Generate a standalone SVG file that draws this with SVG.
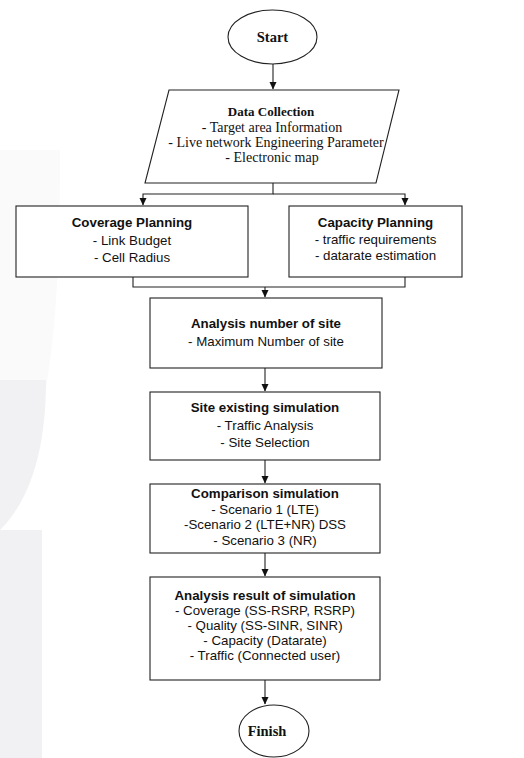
<svg xmlns="http://www.w3.org/2000/svg" width="524" height="758" viewBox="0 0 524 758">
<defs>
<style>
.sh{fill:#fff;stroke:#222;stroke-width:1.1}
.ln{fill:none;stroke:#222;stroke-width:1.1}
.ser{font-family:"Liberation Serif","Times New Roman",serif;font-size:14px;fill:#111;text-anchor:middle}
.sb{font-family:"Liberation Serif","Times New Roman",serif;font-size:13px;font-weight:bold;fill:#111;text-anchor:middle}
.term{font-size:14.5px}
.sans{font-family:"Liberation Sans",Arial,sans-serif;font-size:13.3px;fill:#111;text-anchor:middle}
.bold{font-weight:bold}
</style>
<marker id="ah" markerWidth="8" markerHeight="8" refX="7" refY="4" orient="auto" markerUnits="userSpaceOnUse">
<path d="M0,0.5 L7.5,4 L0,7.5 Z" fill="#111"/>
</marker>
</defs>
<rect width="524" height="758" fill="#fff"/>
<g id="watermark">
<path d="M0,150 L60,150 C60,330 50,430 0,530 Z" fill="#fafafb"/>
<path d="M0,380 L46,380 C46,450 30,500 0,530 Z" fill="#f1f1f3"/>
<rect x="0" y="530" width="42" height="228" fill="#f1f1f3"/>
</g>
<g id="connectors">
<path class="ln" d="M273,64 V89" marker-end="url(#ah)"/>
<path class="ln" d="M273,183 V194 H143 V205" marker-end="url(#ah)"/>
<path class="ln" d="M273,194 H405 V205" marker-end="url(#ah)"/>
<path class="ln" d="M133,277 V287 H405 V277"/>
<path class="ln" d="M265,287 V297" marker-end="url(#ah)"/>
<path class="ln" d="M265,368 V391" marker-end="url(#ah)"/>
<path class="ln" d="M265,460 V483" marker-end="url(#ah)"/>
<path class="ln" d="M265,553 V576" marker-end="url(#ah)"/>
<path class="ln" d="M265,680 V704" marker-end="url(#ah)"/>
</g>
<g id="start">
<ellipse class="sh" cx="272.5" cy="37" rx="44.5" ry="27"/>
<text class="sb term" x="272.5" y="42">Start</text>
</g>
<g id="data-collection">
<polygon class="sh" points="169,90 399,90 376,183 145,183"/>
<text class="sb" x="271" y="116">Data Collection</text>
<text class="ser" x="272" y="132">- Target area Information</text>
<text class="ser" x="276" y="147">- Live network Engineering Parameter</text>
<text class="ser" x="272" y="162">- Electronic map</text>
</g>
<g id="coverage-planning">
<rect class="sh" x="16" y="206" width="232" height="71"/>
<text class="sans bold" x="132" y="227">Coverage Planning</text>
<text class="sans" x="132" y="244.5">- Link Budget</text>
<text class="sans" x="132" y="262">- Cell Radius</text>
</g>
<g id="capacity-planning">
<rect class="sh" x="289" y="206" width="173" height="71"/>
<text class="sans bold" x="375.5" y="227">Capacity Planning</text>
<text class="sans" x="375.5" y="243.5">- traffic requirements</text>
<text class="sans" x="375.5" y="260">- datarate estimation</text>
</g>
<g id="analysis-number">
<rect class="sh" x="150" y="298" width="232" height="70"/>
<text class="sans bold" x="266" y="328">Analysis number of site</text>
<text class="sans" x="266" y="345.5">- Maximum Number of site</text>
</g>
<g id="site-existing">
<rect class="sh" x="150" y="392" width="230" height="68"/>
<text class="sans bold" x="265" y="412">Site existing simulation</text>
<text class="sans" x="265" y="429.5">- Traffic Analysis</text>
<text class="sans" x="265" y="447">- Site Selection</text>
</g>
<g id="comparison">
<rect class="sh" x="150" y="484" width="230" height="69"/>
<text class="sans bold" x="265" y="498">Comparison simulation</text>
<text class="sans" x="265" y="513.5">- Scenario 1 (LTE)</text>
<text class="sans" x="265" y="529">-Scenario 2 (LTE+NR) DSS</text>
<text class="sans" x="265" y="545">- Scenario 3 (NR)</text>
</g>
<g id="analysis-result">
<rect class="sh" x="150" y="577" width="230" height="103"/>
<text class="sans bold" x="265" y="600">Analysis result of simulation</text>
<text class="sans" x="265" y="615">- Coverage (SS-RSRP, RSRP)</text>
<text class="sans" x="265" y="630">- Quality (SS-SINR, SINR)</text>
<text class="sans" x="265" y="645">- Capacity (Datarate)</text>
<text class="sans" x="265" y="660">- Traffic (Connected user)</text>
</g>
<g id="finish">
<ellipse class="sh" cx="274" cy="731" rx="35" ry="26"/>
<text class="sb term" x="267" y="736">Finish</text>
</g>
</svg>
